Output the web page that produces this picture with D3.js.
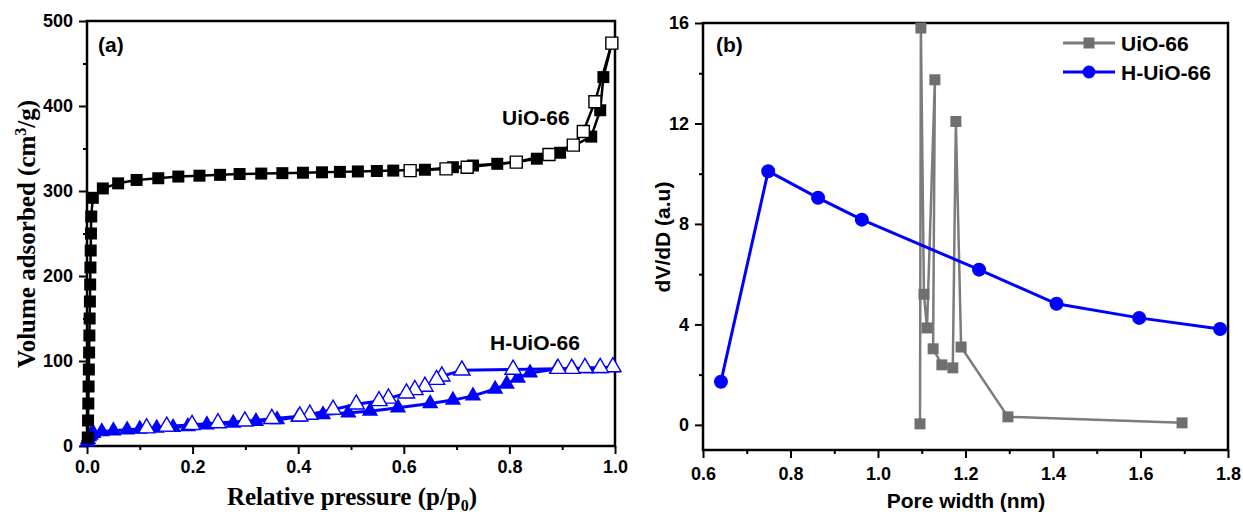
<!DOCTYPE html>
<html>
<head>
<meta charset="utf-8">
<script src="https://cdn.jsdelivr.net/npm/d3@7"></script>
<style>
  body { margin: 0; background: #fff; }
  text { font-family: "Liberation Sans", Arial, sans-serif; font-weight: bold; }
  .serif { font-family: "Liberation Serif", "Times New Roman", serif; }
</style>
</head>
<body>
<div id="chart"></div>
<script>
// ---- panel (a): N2 isotherms ----
var uioAdsP = [0.0015,0.002,0.0025,0.003,0.0035,0.004,0.0045,0.005,0.0055,0.006,0.0065,0.007,0.0075,0.008,0.011,
  0.030,0.059,0.094,0.135,0.173,0.213,0.252,0.289,0.33,0.37,0.409,0.445,0.479,0.513,0.549,0.58,0.64,0.693,
  0.731,0.777,0.814,0.852,0.896,0.955,0.972,0.978,0.994]
var uioAdsV = [10,30,50,70,90,110,130,150,170,190,210,230,250,270,292,
  303,309,313,315,317,318,319,320,320.5,321,321.5,322,322.5,323,323.5,324,325,328,
  330,332,334,338,345,364,395,434,474]
var uioDesP = [0.994,0.962,0.94,0.921,0.875,0.813,0.72,0.68,0.612]
var uioDesV = [474,405,370,354,343,334,328,326,324]

var hAdsP = [0.001,0.002,0.004,0.007,0.012,0.028,0.05,0.076,0.10,0.132,0.163,0.191,0.227,0.277,0.32,0.36,0.40,
  0.447,0.495,0.536,0.589,0.65,0.693,0.731,0.773,0.795,0.816,0.839,0.89,0.92,0.945,0.97,0.995]
var hAdsV = [5,8,11,13,15,17,18,19,20,21,22,23,25,27,29,31,34,
  37,39,41,45,50,54,59,67,73,80,86,91,91,91,91,92]
var hDesP = [0.996,0.972,0.943,0.918,0.892,0.807,0.71,0.672,0.662,0.64,0.621,0.605,0.571,0.553,0.51,0.466,0.422,0.403,
  0.35,0.299,0.248,0.199,0.151,0.113]
var hDesV = [93,92,92,91,91,90,89,82,78,70,66,62,56,53,49,43,37,35,
  32,29,27,25,23,21]

// ---- panel (b): pore size distribution ----
var uioPoreW = [1.096,1.098,1.105,1.112,1.130,1.126,1.146,1.171,1.178,1.190,1.297,1.695]
var uioPoreV = [0.04,15.8,5.2,3.86,13.74,3.03,2.39,2.27,12.08,3.1,0.32,0.08]
var hPoreW = [0.641,0.749,0.863,0.963,1.231,1.408,1.597,1.782]
var hPoreV = [1.72,10.1,9.04,8.17,6.18,4.82,4.26,3.82]

var ticksA_x = [0, 0.2, 0.4, 0.6, 0.8, 1.0]
var ticksA_y = [0, 100, 200, 300, 400, 500]
var ticksB_x = [0.6, 0.8, 1.0, 1.2, 1.4, 1.6, 1.8]
var ticksB_y = [0, 4, 8, 12, 16]

var zip = function(xs, ys){ return xs.map(function(x, i){ return [x, ys[i]] }) }

var svg = d3.select('#chart').append('svg')
  .attr('width', 1243).attr('height', 515)

var blue = '#0000ff', grey = '#6f6f6f'

function drawAxes(g, x, y, xt, yt, xMinor, yMinor, xFmt, xLabPad) {
  var r = x.range(), h = y.range()
  g.append('g').attr('transform', `translate(0,${h[0]})`)
    .call(d3.axisBottom(x).tickValues(xMinor).tickSize(4).tickFormat(''))
  g.append('g').attr('transform', `translate(${r[0]},0)`)
    .call(d3.axisLeft(y).tickValues(yMinor).tickSize(4).tickFormat(''))
  g.append('g').attr('class', 'xa').attr('transform', `translate(0,${h[0]})`)
    .call(d3.axisBottom(x).tickValues(xt).tickSize(8).tickPadding(xLabPad).tickFormat(xFmt))
  g.append('g').attr('class', 'ya').attr('transform', `translate(${r[0]},0)`)
    .call(d3.axisLeft(y).tickValues(yt).tickSize(8).tickPadding(6).tickFormat(d3.format('d')))
  g.selectAll('.domain').remove()
  g.selectAll('.tick line').attr('stroke', '#000').attr('stroke-width', 2)
  g.selectAll('.tick text').attr('fill', '#000').style('font-size', '18px')
  g.append('rect')
    .attr('x', r[0]).attr('y', h[1])
    .attr('width', r[1] - r[0]).attr('height', h[0] - h[1])
    .attr('fill', 'none').attr('stroke', '#000').attr('stroke-width', 2.5)
}

// ================= panel (a) =================
var xa = d3.scaleLinear().domain([0, 1]).range([87, 615])
var ya = d3.scaleLinear().domain([0, 500]).range([446, 21])
var ga = svg.append('g')
drawAxes(ga, xa, ya, ticksA_x, ticksA_y,
  [0.1, 0.3, 0.5, 0.7, 0.9], [50, 150, 250, 350, 450], d3.format('.1f'), 6)

var lineA = d3.line().x(function(d){ return xa(d[0]) }).y(function(d){ return ya(d[1]) })
var sqA = d3.symbol().type(d3.symbolSquare).size(144)
var triA = d3.symbol().type(d3.symbolTriangle).size(115)

function series(g, data, line, sym, stroke, fill, lw, mStroke) {
  g.append('path').datum(data)
    .attr('d', line).attr('fill', 'none')
    .attr('stroke', stroke).attr('stroke-width', lw).attr('stroke-linejoin', 'round')
  g.selectAll(null).data(data).enter().append('path')
    .attr('d', sym)
    .attr('transform', function(d){ return `translate(${line.x()(d)},${line.y()(d)})` })
    .attr('fill', fill).attr('stroke', mStroke || 'none').attr('stroke-width', 1.4)
}

var pa = ga.append('g')
series(pa, zip(hAdsP, hAdsV), lineA, triA, blue, blue, 3)
series(pa, zip(hDesP, hDesV), lineA, triA, blue, '#fff', 3, blue)
series(pa, zip(uioAdsP, uioAdsV), lineA, sqA, '#000', '#000', 2.5)
series(pa, zip(uioDesP, uioDesV), lineA, sqA, '#000', '#fff', 2.5, '#000')

ga.append('text').attr('x', 98).attr('y', 52).style('font-size', '21px').text('(a)')
ga.append('text').attr('x', 502).attr('y', 125).style('font-size', '21px').text('UiO-66')
ga.append('text').attr('x', 490).attr('y', 350).style('font-size', '21px').text('H-UiO-66')

var xlabA = ga.append('text').attr('class', 'serif')
  .attr('x', 352).attr('y', 505).attr('text-anchor', 'middle').style('font-size', '25px')
xlabA.append('tspan').text('Relative pressure (p/p')
xlabA.append('tspan').attr('dy', 6).style('font-size', '16px').text('0')
xlabA.append('tspan').attr('dy', -6).text(')')

var ylabA = ga.append('text').attr('class', 'serif')
  .attr('transform', 'translate(35,234) rotate(-90)')
  .attr('text-anchor', 'middle').style('font-size', '25px')
ylabA.append('tspan').text('Volume adsorbed (cm')
ylabA.append('tspan').attr('dy', -9).style('font-size', '16px').text('3')
ylabA.append('tspan').attr('dy', 9).text('/g)')

// ================= panel (b) =================
var xb = d3.scaleLinear().domain([0.6, 1.8]).range([703, 1228])
var yb = d3.scaleLinear().domain([-1, 16]).range([450, 23])
var gb = svg.append('g')
drawAxes(gb, xb, yb, ticksB_x, ticksB_y,
  [0.7, 0.9, 1.1, 1.3, 1.5, 1.7], [2, 6, 10, 14], d3.format('.1f'), 9)

var lineB = d3.line().x(function(d){ return xb(d[0]) }).y(function(d){ return yb(d[1]) })
var sqB = d3.symbol().type(d3.symbolSquare).size(121)
var circB = d3.symbol().type(d3.symbolCircle).size(Math.PI * 49)

var pb = gb.append('g')
series(pb, zip(uioPoreW, uioPoreV), lineB, sqB, '#7c7c7c', grey, 2.5)
series(pb, zip(hPoreW, hPoreV), lineB, circB, blue, blue, 3)

gb.append('text').attr('x', 716).attr('y', 52).style('font-size', '21px').text('(b)')

// legend
var legend = gb.append('g')
var legItems = [
  { name: 'UiO-66', color: '#7c7c7c', mcolor: grey, sym: sqB, y: 43 },
  { name: 'H-UiO-66', color: blue, mcolor: blue, sym: d3.symbol().type(d3.symbolCircle).size(Math.PI * 42), y: 72 }
]
legItems.forEach(function(it){
  legend.append('line').attr('x1', 1063).attr('x2', 1115).attr('y1', it.y).attr('y2', it.y)
    .attr('stroke', it.color).attr('stroke-width', 3)
  legend.append('path').attr('d', it.sym).attr('transform', `translate(1089,${it.y})`).attr('fill', it.mcolor)
  legend.append('text').attr('x', 1121).attr('y', it.y + 8).style('font-size', '21px').text(it.name)
})

gb.append('text').attr('x', 966).attr('y', 508).attr('text-anchor', 'middle')
  .style('font-size', '21px').text('Pore width (nm)')
gb.append('text').attr('transform', 'translate(670,237) rotate(-90)').attr('text-anchor', 'middle')
  .style('font-size', '21px').text('dV/dD (a.u)')
</script>
</body>
</html>
